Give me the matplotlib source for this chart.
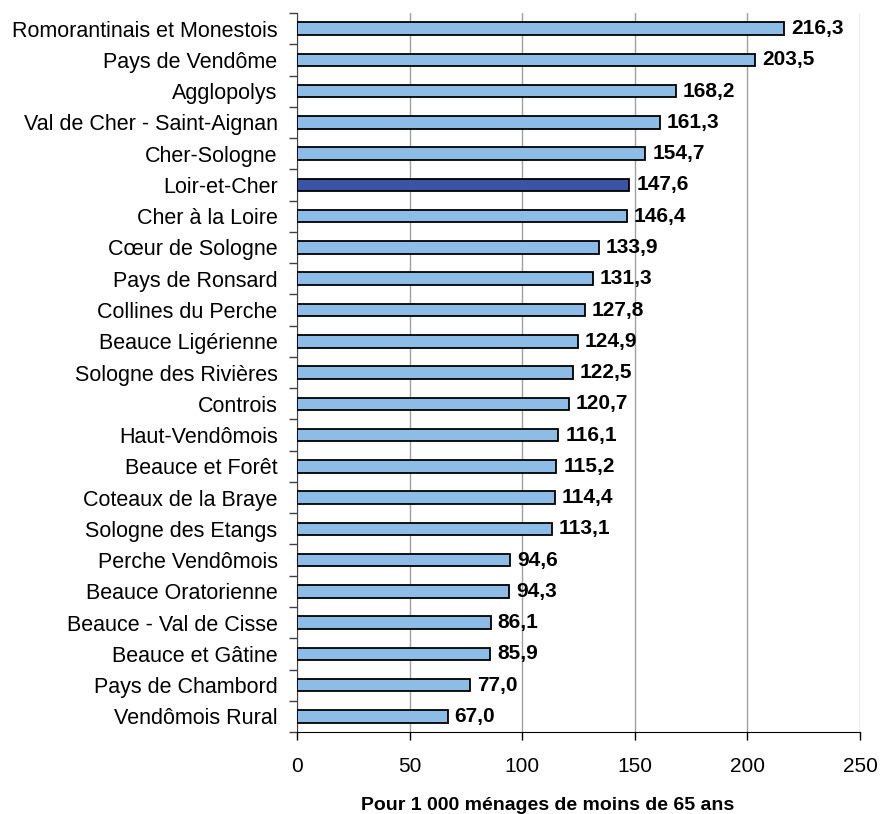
import numpy as np
import matplotlib
matplotlib.use('Agg')
import matplotlib.pyplot as plt

plt.rcParams['font.family'] = ['Liberation Sans', 'DejaVu Sans']

# données
territoires = ['Romorantinais et Monestois', 'Pays de Vendôme', 'Agglopolys',
               'Val de Cher - Saint-Aignan', 'Cher-Sologne', 'Loir-et-Cher',
               'Cher à la Loire', 'Cœur de Sologne', 'Pays de Ronsard',
               'Collines du Perche', 'Beauce Ligérienne', 'Sologne des Rivières',
               'Controis', 'Haut-Vendômois', 'Beauce et Forêt', 'Coteaux de la Braye',
               'Sologne des Etangs', 'Perche Vendômois', 'Beauce Oratorienne',
               'Beauce - Val de Cisse', 'Beauce et Gâtine', 'Pays de Chambord',
               'Vendômois Rural']
valeurs = [216.3, 203.5, 168.2, 161.3, 154.7, 147.6, 146.4, 133.9, 131.3, 127.8,
           124.9, 122.5, 120.7, 116.1, 115.2, 114.4, 113.1, 94.6, 94.3, 86.1,
           85.9, 77.0, 67.0]
xticks = [0, 50, 100, 150, 200, 250]

n = len(territoires)
y = np.arange(n)
couleurs = ['#3A54A4' if t == 'Loir-et-Cher' else '#8DBDE6' for t in territoires]

fig = plt.figure(figsize=(8.8, 8.14), dpi=100)
ax = fig.add_axes([0.3375, 0.1007, 0.6398, 0.8833])

ax.barh(y, valeurs, height=0.4, color=couleurs, edgecolor='black', linewidth=1.3, zorder=3)

for yi, v in zip(y, valeurs):
    ax.text(v + 3, yi, f'{v:.1f}'.replace('.', ','), va='center', ha='left',
            fontsize=15, fontweight='bold', zorder=4)

ax.set_xlim(0, 250)
ax.set_ylim(n - 0.5, -0.5)
ax.set_xticks(xticks)
ax.set_xticklabels([str(t) for t in xticks], fontsize=15)
ax.tick_params(axis='x', length=6, width=1, pad=12, color='black')

ax.set_yticks(y)
ax.set_yticklabels(territoires, fontsize=15.5)
ax.set_yticks(np.arange(n + 1) - 0.5, minor=True)
ax.tick_params(axis='y', which='major', length=0, pad=14)
ax.tick_params(axis='y', which='minor', length=6, width=1, color='#404040')

ax.xaxis.grid(True, color='#A0A0A0', linewidth=1, zorder=0)
for s in ['top', 'right']:
    ax.spines[s].set_visible(False)
ax.spines['left'].set_color('#404040')
ax.spines['bottom'].set_color('black')

ax.set_xlabel('Pour 1 000 ménages de moins de 65 ans', fontsize=14, fontweight='bold')
ax.xaxis.set_label_coords(0.446, -0.09)

plt.savefig('out.png', dpi=100)
